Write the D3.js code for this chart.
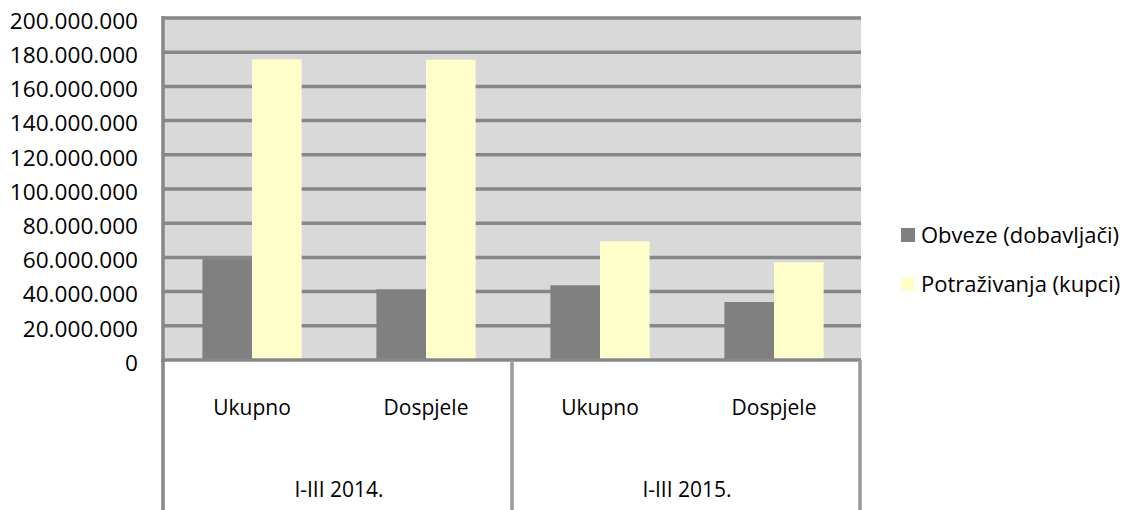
<!DOCTYPE html>
<html>
<head>
<meta charset="utf-8">
<script src="https://cdn.jsdelivr.net/npm/d3@7"></script>
<style>
  html, body { margin: 0; padding: 0; background: #ffffff; }
  svg { display: block; font-family: "Open Sans", sans-serif; }
</style>
</head>
<body>
<svg id="chart" width="1129" height="510"></svg>
<script>
// ---- data ----
const categories = ["Ukupno", "Dospjele", "Ukupno", "Dospjele"];
const groups = ["I-III 2014.", "I-III 2015."];
const seriesNames = ["Obveze (dobavljači)", "Potraživanja (kupci)"];
const obveze = [59000000, 41300000, 43700000, 33900000];
const potrazivanja = [175800000, 175600000, 69400000, 57100000];
const yTicks = [0, 20000000, 40000000, 60000000, 80000000, 100000000, 120000000, 140000000, 160000000, 180000000, 200000000];
const colors = ["#808080", "#ffffcc"];

// ---- layout ----
const svg = d3.select("#chart");
const plotLeft = 165, plotRight = 861, plotTop = 18, plotBottom = 360;
const gridColor = "#878787";

const locale = d3.formatLocale({decimal: ",", thousands: ".", grouping: [3], currency: ["", ""]});
const fmt = locale.format(",");

const y = d3.scaleLinear().domain([0, 200000000]).range([plotBottom, plotTop]);
const idx = d3.range(categories.length);
const x0 = d3.scaleBand().domain(idx).range([plotLeft, plotRight]).paddingInner(0.43).paddingOuter(0.215);
const x1 = d3.scaleBand().domain([0, 1]).range([0, x0.bandwidth()]);

// background
svg.append("rect")
  .attr("x", plotLeft - 2).attr("y", plotTop)
  .attr("width", plotRight - plotLeft + 2).attr("height", plotBottom - plotTop)
  .attr("fill", "#d9d9d9");

// gridlines
svg.append("g").selectAll("line").data(yTicks.filter(d => d > 0)).join("line")
  .attr("x1", plotLeft - 2).attr("x2", plotRight)
  .attr("y1", d => y(d)).attr("y2", d => y(d))
  .attr("stroke", gridColor).attr("stroke-width", 3.5);

// bars
const series = [obveze, potrazivanja];
series.forEach((vals, s) => {
  svg.append("g").selectAll("rect").data(idx).join("rect")
    .attr("x", i => x0(i) + x1(s))
    .attr("y", i => y(vals[i]))
    .attr("width", x1.bandwidth())
    .attr("height", i => y(0) - y(vals[i]))
    .attr("fill", colors[s]);
});

// y axis via d3.axisLeft
const yAxis = d3.axisLeft(y).tickValues(yTicks).tickFormat(fmt).tickSize(0).tickPadding(0);
const gy = svg.append("g").attr("transform", `translate(${138},0)`).call(yAxis);
gy.select(".domain").remove();
gy.selectAll("text")
  .attr("font-family", "Open Sans, sans-serif")
  .attr("font-size", 22.6)
  .attr("fill", "#000")
  .attr("dy", "0.32em")
  .attr("transform", "translate(0,3)");

// axis lines
svg.append("line")
  .attr("x1", 163).attr("x2", 163).attr("y1", plotTop - 2).attr("y2", 510)
  .attr("stroke", gridColor).attr("stroke-width", 3.5);
svg.append("line")
  .attr("x1", 161).attr("x2", plotRight).attr("y1", plotBottom).attr("y2", plotBottom)
  .attr("stroke", gridColor).attr("stroke-width", 3.5);

// group dividers
const groupEdges = [x0.step() * 2 + plotLeft - 1, plotRight - 1];
svg.append("g").selectAll("line").data(groupEdges).join("line")
  .attr("x1", d => d).attr("x2", d => d)
  .attr("y1", plotBottom).attr("y2", 510)
  .attr("stroke", "#999999").attr("stroke-width", 3.5);

// category labels
svg.append("g").selectAll("text").data(idx).join("text")
  .attr("x", i => x0(i) + x0.bandwidth() / 2)
  .attr("y", 415)
  .attr("text-anchor", "middle")
  .attr("font-size", 21)
  .attr("fill", "#000")
  .text(i => categories[i]);

svg.append("g").selectAll("text").data(groups).join("text")
  .attr("x", (d, g) => (x0(g * 2) + x0(g * 2 + 1) + x0.bandwidth()) / 2)
  .attr("y", 497)
  .attr("text-anchor", "middle")
  .attr("font-size", 21)
  .attr("fill", "#000")
  .text(d => d);

// legend
const legY = [235, 284];
const leg = svg.append("g");
seriesNames.forEach((name, s) => {
  leg.append("rect")
    .attr("x", 901).attr("y", legY[s] - 7)
    .attr("width", 14).attr("height", 14)
    .attr("fill", colors[s]);
  leg.append("text")
    .attr("x", 921).attr("y", legY[s])
    .attr("dy", "0.35em")
    .attr("font-size", 22)
    .attr("fill", "#000")
    .text(name);
});
</script>
</body>
</html>
